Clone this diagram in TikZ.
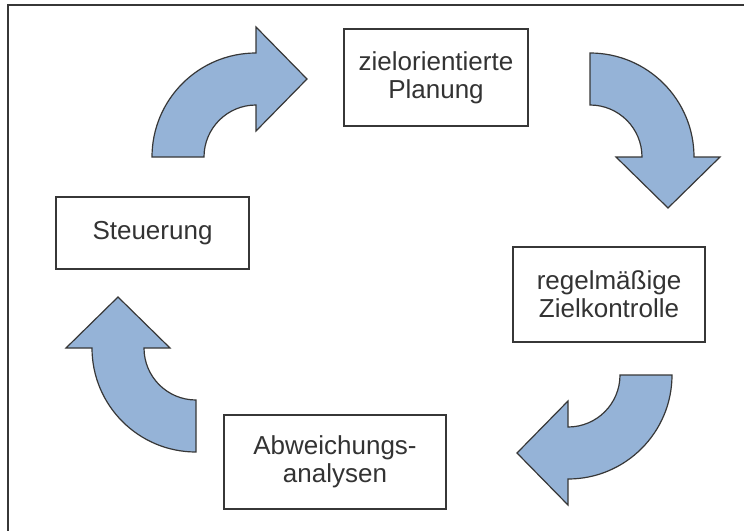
\documentclass[tikz,border=0pt]{standalone}
\usepackage{fontspec}
\setmainfont{Liberation Sans}
\usepackage{xcolor}
\definecolor{cycleBlue}{RGB}{149, 179, 215}
\definecolor{lineGray}{RGB}{55, 55, 55}
\usepackage{tikz}
\usetikzlibrary{positioning}

\begin{document}
\begin{tikzpicture}[x=0.5pt, y=0.5pt,
  stage/.style={rectangle, draw=lineGray, line width=0.7pt, fill=white,
                align=center, text=black!80, inner sep=0pt,
                font=\fontsize{13}{14}\selectfont},
  frame/.style={draw=lineGray, line width=0.7pt},
  cyclearrow/.pic={
    \draw[draw=lineGray, line width=0.6pt, fill=cycleBlue, line join=miter]
      (180:52pt) arc[start angle=180, end angle=90, radius=52pt]
      -- (0pt,65pt) -- (25.5pt,39pt) -- (0pt,13pt) -- (0pt,26pt)
      arc[start angle=90, end angle=180, radius=26pt] -- cycle;
  }]

  % ---- Page ----
  \useasboundingbox (0,0) rectangle (744,-530);
  \draw[frame] (8,-545) -- (8,-5) -- (760,-5);

  % ---- Stages ----
  \node[stage, minimum width=92pt, minimum height=48.5pt] (planung) at (436,-77.5)
    {zielorientierte\\Planung};
  \node[stage, minimum width=96pt, minimum height=47.5pt] (kontrolle) at (609,-294.5)
    {regelmäßige\\Zielkontrolle};
  \node[stage, minimum width=111pt, minimum height=47pt] (analyse) at (335,-462)
    {Abweichungs-\\analysen};
  \node[stage, minimum width=96.5pt, minimum height=36pt] (steuerung) at (152.5,-233)
    {Steuerung};

  % ---- Cycle arrows ----
  \pic at (256,-157) {cyclearrow};
  \pic[rotate=-90] at (590,-157) {cyclearrow};
  \pic[rotate=180] at (568,-375) {cyclearrow};
  \pic[rotate=90] at (196,-348) {cyclearrow};

\end{tikzpicture}
\end{document}
